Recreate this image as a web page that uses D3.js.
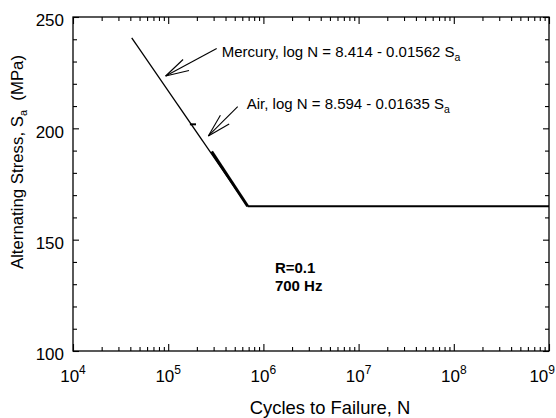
<!DOCTYPE html>
<html>
<head>
<meta charset="utf-8">
<script src="https://cdn.jsdelivr.net/npm/d3@7"></script>
<style>
	body { margin: 0; background: #fff; }
	svg text { font-family: "Liberation Sans", Arial, Helvetica, sans-serif; fill: #000; }
</style>
</head>
<body>
<div id="chart"></div>
<script>

// values
var mercuryN = [4.14e4, 6.84e5]
var mercuryS = [240.6, 165]

var airN = [2.86e5, 6.84e5]
var airS = [189.6, 165]

var enduranceN = [6.84e5, 1e9]
var enduranceS = [165, 165]

// little dash left of the line near 200 MPa
var dashN = [1.69e5, 1.96e5]
var dashS = [201.8, 201.8]

var xDecades = [4, 5, 6, 7, 8, 9]
var yMajor = [100, 150, 200, 250]
var yMinor = [110, 120, 130, 140, 160, 170, 180, 190, 210, 220, 230, 240]

// annotations: [text N, text S, arrow tail N, tail S, tip N, tip S]
var mercuryNote = [3.65e5, 232, 3.23e5, 235.9, 9.4e4, 223.5]
var airNote = [6.68e5, 208.8, 5.37e5, 209.7, 2.64e5, 196.6]
var conditionsNote = [1.32e6, 135.2]

var W = 556, H = 418
var margin = {top: 17, right: 7, bottom: 67, left: 73}
var width = W - margin.left - margin.right
var height = H - margin.top - margin.bottom

var svg = d3.select("#chart").append("svg")
	.attr("width", W)
	.attr("height", H)

var chart = svg.append("g")
	.attr("transform", "translate(" + margin.left + "," + margin.top + ")")

var x = d3.scaleLog()
	.domain([1e4, 1e9])
	.range([0, width])

var y = d3.scaleLinear()
	.domain([100, 250])
	.range([height, 0])

var majorX = xDecades.map(function(d) { return Math.pow(10, d) })
var minorX = []
for (var i = 0; i < xDecades.length - 1; i++) {
	for (var k = 2; k <= 9; k++) minorX.push(k * Math.pow(10, xDecades[i]))
}

function tickAxis(axisFn, scale, values, size, transform) {
	var g = chart.append("g")
		.attr("class", "ticks")
		.attr("transform", transform)
		.call(axisFn(scale).tickValues(values).tickSize(size).tickFormat(""))
	g.select(".domain").remove()
	g.selectAll("line").attr("stroke", "#000").attr("stroke-width", 1.1)
}

// ticks point inward on all four sides
tickAxis(d3.axisBottom, x, majorX, -7, "translate(0," + height + ")")
tickAxis(d3.axisBottom, x, minorX, -4, "translate(0," + height + ")")
tickAxis(d3.axisTop, x, majorX, -7, "translate(0,0)")
tickAxis(d3.axisTop, x, minorX, -4, "translate(0,0)")
tickAxis(d3.axisLeft, y, yMajor, -6, "translate(0,0)")
tickAxis(d3.axisLeft, y, yMinor, -4, "translate(0,0)")
tickAxis(d3.axisRight, y, yMajor, -6, "translate(" + width + ",0)")
tickAxis(d3.axisRight, y, yMinor, -4, "translate(" + width + ",0)")

chart.append("rect")
	.attr("x", 0)
	.attr("y", 0)
	.attr("width", width)
	.attr("height", height)
	.attr("fill", "none")
	.attr("stroke", "#000")
	.attr("stroke-width", 1.3)

// x tick labels 10^n, the last one pulled in so it stays on the page
xDecades.forEach(function(d, i) {
	var last = i == xDecades.length - 1
	var t = chart.append("text")
		.attr("x", last ? W - margin.left - 1 : x(Math.pow(10, d)))
		.attr("y", height + 31)
		.attr("text-anchor", last ? "end" : "middle")
		.style("font-size", "17px")
	t.append("tspan").text("10")
	t.append("tspan")
		.attr("dy", -8)
		.style("font-size", "12px")
		.text(d)
})

// y tick labels
yMajor.forEach(function(d) {
	chart.append("text")
		.attr("x", -9)
		.attr("y", y(d) + 3.5)
		.attr("dy", "0.35em")
		.attr("text-anchor", "end")
		.style("font-size", "17px")
		.text(d)
})

// axis titles
svg.append("text")
	.attr("x", 330)
	.attr("y", 414)
	.attr("text-anchor", "middle")
	.style("font-size", "18.4px")
	.text("Cycles to Failure, N")

var yTitle = svg.append("text")
	.attr("transform", "translate(23,162) rotate(-90)")
	.attr("text-anchor", "middle")
	.style("font-size", "16.8px")
yTitle.append("tspan").text("Alternating Stress, S")
yTitle.append("tspan").attr("dy", 4).style("font-size", "11px").text("a")
yTitle.append("tspan").attr("dy", -4).text("\u00a0\u00a0(MPa)")

// data lines
var line = d3.line()
	.x(function(d) { return x(d[0]) })
	.y(function(d) { return y(d[1]) })

function plotSeries(ns, ss, w) {
	chart.append("path")
		.datum(d3.zip(ns, ss))
		.attr("fill", "none")
		.attr("stroke", "#000")
		.attr("stroke-width", w)
		.attr("d", line)
}

plotSeries(mercuryN, mercuryS, 1.3)
plotSeries(airN, airS, 3)
plotSeries(enduranceN, enduranceS, 2)
plotSeries(dashN, dashS, 2)

// annotations with open arrow heads
function note(n, label, value, sub) {
	var tail = [x(n[2]), y(n[3])]
	var tip = [x(n[4]), y(n[5])]
	var ang = Math.atan2(tail[1] - tip[1], tail[0] - tip[0])
	var len = 24, spread = 15 * Math.PI / 180

	var g = chart.append("g")
		.attr("stroke", "#000")
		.attr("stroke-width", 1.1)
	g.append("line")
		.attr("x1", tail[0]).attr("y1", tail[1])
		.attr("x2", tip[0]).attr("y2", tip[1])
	;[-spread, spread].forEach(function(s) {
		g.append("line")
			.attr("x1", tip[0]).attr("y1", tip[1])
			.attr("x2", tip[0] + len * Math.cos(ang + s))
			.attr("y2", tip[1] + len * Math.sin(ang + s))
	})

	var t = chart.append("text")
		.attr("x", x(n[0]))
		.attr("y", y(n[1]))
		.style("font-size", "15px")
	t.append("tspan").text(label + ", log N = " + value + " S")
	t.append("tspan").attr("dy", 4).style("font-size", "10.5px").text(sub)
}

note(mercuryNote, "Mercury", "8.414 - 0.01562", "a")
note(airNote, "Air", "8.594 - 0.01635", "a")

chart.append("text")
	.attr("x", x(conditionsNote[0]))
	.attr("y", y(conditionsNote[1]))
	.style("font-size", "15px")
	.style("font-weight", "bold")
	.text("R=0.1")

chart.append("text")
	.attr("x", x(conditionsNote[0]))
	.attr("y", y(conditionsNote[1]) + 18)
	.style("font-size", "15px")
	.style("font-weight", "bold")
	.text("700 Hz")

</script>
</body>
</html>
